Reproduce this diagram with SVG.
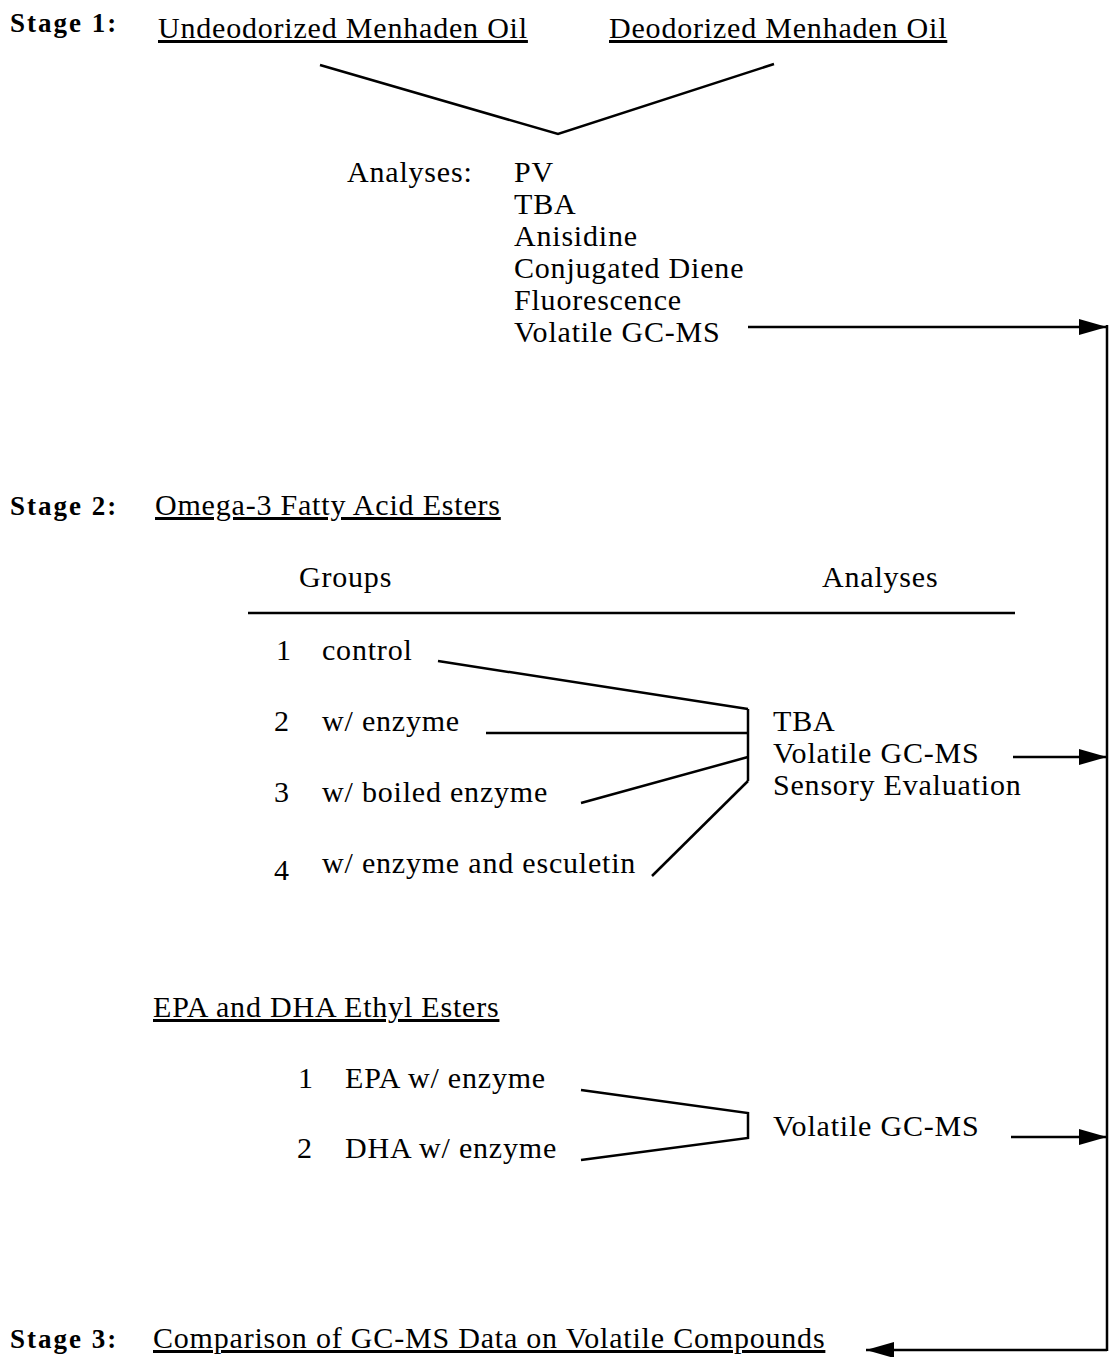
<svg xmlns="http://www.w3.org/2000/svg" width="1110" height="1357" viewBox="0 0 1110 1357">
<style>
text{font-family:"Liberation Serif","Times New Roman",serif;font-size:30px;letter-spacing:0.8px;fill:#000}
.st{font-weight:bold;font-size:27px;letter-spacing:2px}
.u{text-decoration:underline}
.ln{stroke:#000;stroke-width:2.5;fill:none}
</style>
<defs>
<marker id="ah" markerUnits="userSpaceOnUse" markerWidth="30" markerHeight="18" refX="28" refY="9" orient="auto">
<path d="M0,1 L28,9 L0,17 Z" fill="#000"/>
</marker>
</defs>
<rect width="1110" height="1357" fill="#fff"/>
<g id="stage1">
<text class="st" x="10" y="32">Stage 1:</text>
<text class="u" x="158" y="38">Undeodorized Menhaden Oil</text>
<text class="u" x="609" y="38">Deodorized Menhaden Oil</text>
</g>
<g id="analyses1">
<text x="347" y="182">Analyses:</text>
<text x="514" y="182">PV</text>
<text x="514" y="214">TBA</text>
<text x="514" y="246">Anisidine</text>
<text x="514" y="278">Conjugated Diene</text>
<text x="514" y="310">Fluorescence</text>
<text x="514" y="342">Volatile GC-MS</text>
</g>
<g id="stage2">
<text class="st" x="10" y="515">Stage 2:</text>
<text class="u" x="155" y="515">Omega-3 Fatty Acid Esters</text>
<text x="299" y="587">Groups</text>
<text x="822" y="587">Analyses</text>
<line class="ln" x1="248" y1="613" x2="1015" y2="613"/>
</g>
<g id="groups">
<text x="276" y="660">1</text><text x="322" y="660">control</text>
<text x="274" y="731">2</text><text x="322" y="731">w/ enzyme</text>
<text x="274" y="802">3</text><text x="322" y="802">w/ boiled enzyme</text>
<text x="274" y="880">4</text><text x="322" y="873">w/ enzyme and esculetin</text>
</g>
<g id="analyses2">
<text x="773" y="731">TBA</text>
<text x="773" y="763">Volatile GC-MS</text>
<text x="773" y="795">Sensory Evaluation</text>
</g>
<g id="ethyl">
<text class="u" x="153" y="1017">EPA and DHA Ethyl Esters</text>
<text x="298" y="1088">1</text><text x="345" y="1088">EPA w/ enzyme</text>
<text x="297" y="1158">2</text><text x="345" y="1158">DHA w/ enzyme</text>
<text x="773" y="1136">Volatile GC-MS</text>
</g>
<g id="stage3">
<text class="st" x="10" y="1348">Stage 3:</text>
<text class="u" x="153" y="1348">Comparison of GC-MS Data on Volatile Compounds</text>
</g>
<g id="connectors">
<polyline class="ln" points="320,65 558,134 774,64"/>
<line class="ln" x1="748" y1="327" x2="1107" y2="327" marker-end="url(#ah)"/>
<line class="ln" x1="1107" y1="325" x2="1107" y2="1351"/>
<line class="ln" x1="438" y1="661" x2="748" y2="709"/>
<line class="ln" x1="486" y1="733" x2="748" y2="733"/>
<line class="ln" x1="581" y1="803" x2="748" y2="757"/>
<line class="ln" x1="652" y1="876" x2="748" y2="781"/>
<line class="ln" x1="748" y1="709" x2="748" y2="781"/>
<line class="ln" x1="1013" y1="757" x2="1107" y2="757" marker-end="url(#ah)"/>
<polyline class="ln" points="581,1090 748,1113 748,1138 581,1160"/>
<line class="ln" x1="1011" y1="1137" x2="1107" y2="1137" marker-end="url(#ah)"/>
<line class="ln" x1="1107" y1="1350" x2="866" y2="1350" marker-end="url(#ah)"/>
</g>
</svg>
